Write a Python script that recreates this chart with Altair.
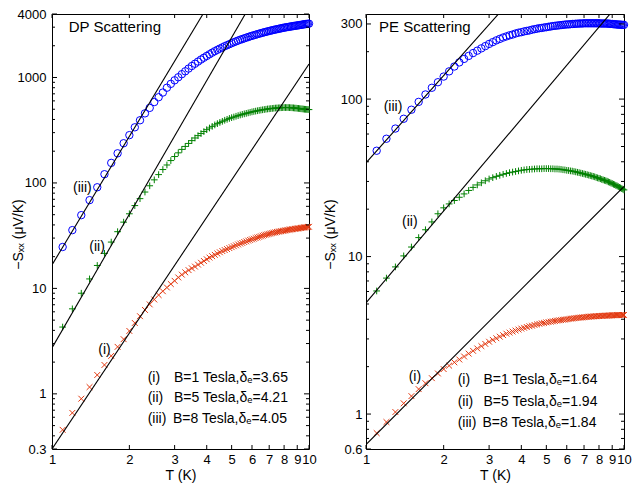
import altair as alt
import pandas as pd

FONT = "Liberation Sans"

# temperature grid (K)
T = [1.1, 1.2, 1.3, 1.4, 1.5, 1.6, 1.7, 1.8, 1.9, 2.0,
     2.1, 2.2, 2.3, 2.4, 2.5, 2.6, 2.7, 2.8, 2.9, 3.0,
     3.1, 3.2, 3.3, 3.4, 3.5, 3.6, 3.7, 3.8, 3.9, 4.0,
     4.1, 4.2, 4.3, 4.4, 4.5, 4.6, 4.7, 4.8, 4.9, 5.0,
     5.1, 5.2, 5.3, 5.4, 5.5, 5.6, 5.7, 5.8, 5.9, 6.0,
     6.1, 6.2, 6.3, 6.4, 6.5, 6.6, 6.7, 6.8, 6.9, 7.0,
     7.1, 7.2, 7.3, 7.4, 7.5, 7.6, 7.7, 7.8, 7.9, 8.0,
     8.1, 8.2, 8.3, 8.4, 8.5, 8.6, 8.7, 8.8, 8.9, 9.0,
     9.1, 9.2, 9.3, 9.4, 9.5, 9.6, 9.7, 9.8, 9.9, 10.0]

# DP scattering, -Sxx (uV/K)
dp_i = [0.456, 0.66, 0.90, 1.16, 1.51, 1.88, 2.29, 2.79, 3.3, 3.95,
        4.7, 5.45, 6.25, 7.05, 7.85, 8.65, 9.4, 10.2, 11.0, 11.8,
        12.7, 13.5, 14.2, 14.9, 15.5, 16.1, 16.8, 17.5, 18.2, 18.9,
        19.6, 20.2, 20.8, 21.4, 22.0, 22.6, 23.1, 23.6, 24.1, 24.6,
        25.1, 25.6, 26.1, 26.6, 27.0, 27.5, 27.9, 28.4, 28.8, 29.2,
        29.6, 30.0, 30.4, 30.8, 31.2, 31.6, 32.0, 32.3, 32.6, 32.9,
        33.2, 33.5, 33.8, 34.0, 34.3, 34.5, 34.7, 34.9, 35.1, 35.3,
        35.5, 35.7, 35.9, 36.0, 36.2, 36.4, 36.5, 36.7, 36.8, 37.0,
        37.1, 37.3, 37.4, 37.6, 37.7, 37.9, 38.0, 38.1, 38.3, 38.4]
dp_ii = [4.3, 6.4, 9.0, 12.3, 16.5, 21.5, 27.5, 34.5, 42.5, 51,
         61, 71, 82, 94, 107, 120, 134, 148, 163, 178,
         193, 208, 222, 237, 252, 267, 281, 294, 307, 320,
         332, 344, 355, 365, 375, 384, 393, 401, 409, 416,
         422, 429, 435, 441, 447, 452, 457, 462, 467, 472,
         476, 480, 484, 488, 491, 494, 497, 500, 503, 505,
         507, 509, 511, 513, 514, 515, 516, 517, 518, 519,
         519, 519, 519, 518, 517, 516, 515, 513, 512, 510,
         509, 507, 505, 504, 502, 500, 499, 498, 497, 496]
dp_iii = [24.7, 35.7, 49.5, 68.7, 91, 121, 155, 191, 238, 284,
          337, 393, 457, 515, 585, 650, 720, 800, 870, 940,
          1005, 1075, 1145, 1215, 1285, 1350, 1415, 1480, 1540, 1600,
          1660, 1720, 1775, 1830, 1880, 1930, 1980, 2025, 2070, 2115,
          2160, 2200, 2240, 2280, 2315, 2350, 2385, 2420, 2455, 2485,
          2515, 2545, 2575, 2605, 2630, 2660, 2685, 2710, 2735, 2760,
          2785, 2805, 2830, 2850, 2870, 2890, 2910, 2930, 2950, 2970,
          2985, 3000, 3015, 3030, 3045, 3060, 3075, 3090, 3100, 3115,
          3130, 3140, 3155, 3170, 3185, 3200, 3210, 3220, 3230, 3240]

# PE scattering, -Sxx (uV/K)
pe_i = [0.757, 0.89, 1.03, 1.17, 1.30, 1.44, 1.57, 1.69, 1.81, 1.93,
        2.03, 2.13, 2.22, 2.32, 2.42, 2.52, 2.61, 2.70, 2.79, 2.88,
        2.96, 3.03, 3.10, 3.17, 3.24, 3.29, 3.34, 3.39, 3.44, 3.49,
        3.53, 3.57, 3.61, 3.64, 3.68, 3.71, 3.74, 3.77, 3.79, 3.82,
        3.84, 3.86, 3.88, 3.90, 3.92, 3.94, 3.95, 3.97, 3.98, 4.00,
        4.01, 4.03, 4.04, 4.06, 4.07, 4.08, 4.09, 4.10, 4.11, 4.12,
        4.13, 4.14, 4.15, 4.16, 4.16, 4.17, 4.18, 4.18, 4.19, 4.19,
        4.20, 4.20, 4.21, 4.21, 4.22, 4.22, 4.22, 4.23, 4.23, 4.23,
        4.24, 4.24, 4.24, 4.25, 4.25, 4.25, 4.25, 4.26, 4.26, 4.26]
pe_ii = [6.05, 7.3, 8.6, 10.1, 11.5, 13.2, 14.8, 16.6, 18.7, 20.4,
         21.6, 22.7, 23.8, 25.0, 26.3, 27.5, 28.5, 29.4, 30.3, 31.1,
         31.7, 32.3, 32.8, 33.3, 33.7, 34.1, 34.4, 34.7, 35.0, 35.3,
         35.5, 35.7, 35.8, 35.9, 36.0, 36.1, 36.1, 36.1, 36.2, 36.2,
         36.2, 36.1, 36.1, 36.0, 36.0, 35.9, 35.8, 35.6, 35.5, 35.3,
         35.2, 35.0, 34.9, 34.7, 34.5, 34.3, 34.1, 33.9, 33.7, 33.5,
         33.3, 33.1, 32.9, 32.7, 32.5, 32.3, 32.1, 31.8, 31.6, 31.4,
         31.2, 30.9, 30.7, 30.5, 30.3, 30.1, 29.8, 29.6, 29.3, 29.1,
         28.8, 28.6, 28.3, 28.1, 27.8, 27.5, 27.3, 27.0, 26.8, 26.5]
pe_iii = [47, 56, 65, 75, 85.6, 96, 107, 118, 128, 139,
          150, 161, 171, 180, 188, 196, 203, 210, 217, 224,
          230, 236, 241, 246, 250, 254, 257, 261, 264, 266,
          269, 271, 273, 276, 278, 280, 282, 283, 285, 286,
          288, 289, 291, 292, 293, 294, 295, 296, 297, 298,
          298, 299, 300, 300, 301, 301, 302, 302, 302, 303,
          303, 303, 303, 303, 303, 303, 303, 303, 303, 303,
          302, 302, 302, 302, 302, 302, 301, 301, 300, 300,
          299, 299, 298, 298, 297, 297, 297, 296, 296, 296]

# power-law fit lines: value at T=1 and T=10 for (i), (ii), (iii)
fit_T = [1, 10]
dp_fit_start = [0.3, 2.73, 16.7]
dp_fit_end = [1340, 44300, 187000]
pe_fit_start = [0.64, 5.08, 39.4]
pe_fit_end = [27.9, 442, 2727]

# axes
x_ticks = [1, 2, 3, 4, 5, 6, 7, 8, 9, 10]
dp_ydomain = [0.3, 4000]
dp_ylabels = [0.3, 1, 10, 100, 1000, 4000]
dp_yminor = [0.4, 0.5, 0.6, 0.7, 0.8, 0.9, 2, 3, 4, 5, 6, 7, 8, 9,
             20, 30, 40, 50, 60, 70, 80, 90, 200, 300, 400, 500, 600, 700, 800, 900, 2000, 3000]
pe_ydomain = [0.6, 347]
pe_ylabels = [0.6, 1, 10, 100, 300]
pe_yminor = [0.7, 0.8, 0.9, 2, 3, 4, 5, 6, 7, 8, 9,
             20, 30, 40, 50, 60, 70, 80, 90, 200]

dp_legend = ["B=1 Tesla,δₑ=3.65", "B=5 Tesla,δₑ=4.21", "B=8 Tesla,δₑ=4.05"]
pe_legend = ["B=1 Tesla,δₑ=1.64", "B=5 Tesla,δₑ=1.94", "B=8 Tesla,δₑ=1.84"]
romans = ["(i)", "(ii)", "(iii)"]

BLUE = "#0000ff"
GREEN = "#008000"
RED = "#e3380f"
PLUS = "M-1,0L1,0M0,-1L0,1"
CROSS = "M-1,-1L1,1M-1,1L1,-1"

H = 435
one = pd.DataFrame({"a": [0]})


def make_panel(vals, fit_start, fit_end, ydom, ylabels, yminor, W, title_x, label_pad,
               heading, heading_xy, roman_xy, legend, legend_nx, legend_bx, legend_y):
    xs = alt.Scale(type="log", domain=[1, 10], nice=False)
    ys = alt.Scale(type="log", domain=ydom, nice=False)

    fit_df = pd.DataFrame({
        "T": fit_T * 3,
        "S": [fit_start[0], fit_end[0], fit_start[1], fit_end[1], fit_start[2], fit_end[2]],
        "fit": ["i", "i", "ii", "ii", "iii", "iii"],
    })
    main_x = alt.Axis(values=x_ticks, format="~g", ticks=False, tickSize=0, domain=False, grid=False,
                      labelPadding=4, labelFont=FONT, labelFontSize=13, labelColor="black",
                      labelFlush=False, labelOverlap=False,
                      title="T (K)", titleFont=FONT, titleFontSize=14, titleFontWeight="normal",
                      titleColor="black", titlePadding=2)
    main_y = alt.Axis(values=ylabels, format="~g", ticks=False, tickSize=0, domain=False, grid=False,
                      labelPadding=label_pad, labelFont=FONT, labelFontSize=13, labelColor="black",
                      labelFlush=False, labelOverlap=False,
                      title="−Sₓₓ (μV/K)", titleFont=FONT, titleFontSize=14, titleFontWeight="normal",
                      titleColor="black", titleX=title_x, titleY=220, titleAngle=270,
                      titleBaseline="middle", titleAlign="center")

    layers = []
    # data points
    specs = [(vals[2], "circle", BLUE, 55), (vals[1], PLUS, GREEN, 45), (vals[0], CROSS, RED, 34)]
    for v, shape, col, size in specs:
        df = pd.DataFrame({"T": T, "S": v})
        layers.append(
            alt.Chart(df).mark_point(shape=shape, filled=False, color=col, size=size,
                                     strokeWidth=1, opacity=1).encode(
                x=alt.X("T:Q", scale=xs, axis=None),
                y=alt.Y("S:Q", scale=ys, axis=None)))
    # fit lines (carry the labelled axes)
    layers.append(
        alt.Chart(fit_df).mark_line(clip=True, color="black", strokeWidth=1.1).encode(
            x=alt.X("T:Q", scale=xs, axis=main_x),
            y=alt.Y("S:Q", scale=ys, axis=main_y),
            detail="fit:N"))

    # inward ticks on all four sides
    xt = pd.DataFrame({"T": x_ticks})
    for y0, y1 in [(H, H - 4), (0, 4)]:
        layers.append(alt.Chart(xt).mark_rule(color="black", strokeWidth=1).encode(
            x=alt.X("T:Q", scale=xs, axis=None), y=alt.value(y0), y2=alt.value(y1)))
    for vals_t, ln in [(ylabels, 5), (yminor, 3)]:
        yt = pd.DataFrame({"S": vals_t})
        for x0, x1 in [(0, ln), (W, W - ln)]:
            layers.append(alt.Chart(yt).mark_rule(color="black", strokeWidth=1).encode(
                y=alt.Y("S:Q", scale=ys, axis=None), x=alt.value(x0), x2=alt.value(x1)))

    def txt(s, x, y, size=14, baseline="middle"):
        return alt.Chart(one).mark_text(font=FONT, fontSize=size, align="left", baseline=baseline,
                                        color="black").encode(
            x=alt.value(x), y=alt.value(y), text=alt.value(s))

    layers.append(txt(heading, heading_xy[0], heading_xy[1], size=15, baseline="alphabetic"))
    for k in range(3):
        layers.append(txt(romans[k], roman_xy[k][0], roman_xy[k][1]))
        layers.append(txt(romans[k], legend_nx, legend_y[k], baseline="alphabetic"))
        layers.append(txt(legend[k], legend_bx[k], legend_y[k], baseline="alphabetic"))

    return alt.layer(*layers).resolve_axis(x="independent", y="independent").properties(
        width=W, height=H)


left = make_panel([dp_i, dp_ii, dp_iii], dp_fit_start, dp_fit_end, dp_ydomain, dp_ylabels, dp_yminor,
                  257, -34, 6, "DP Scattering", (16.7, 18.3),
                  [(46.3, 336), (37.3, 232.7), (21, 174)],
                  dp_legend, 95.7, [122, 122, 121], [367.7, 387.5, 408.7])
right = make_panel([pe_i, pe_ii, pe_iii], pe_fit_start, pe_fit_end, pe_ydomain, pe_ylabels, pe_yminor,
                   258, -36, 4, "PE Scattering", (13, 17.7),
                   [(42.7, 362.7), (36, 207.7), (17.7, 93.3)],
                   pe_legend, 91.7, [117.5, 117.5, 116.5], [370, 391.7, 413.3])

chart = alt.hconcat(left, right, spacing=57, bounds="flush").properties(
    padding={"left": 10, "top": 7, "right": 0, "bottom": 0},
    background="white",
).configure_view(stroke="black", strokeWidth=1)

chart.save("out.html", embed_options={"renderer": "svg", "actions": False})
